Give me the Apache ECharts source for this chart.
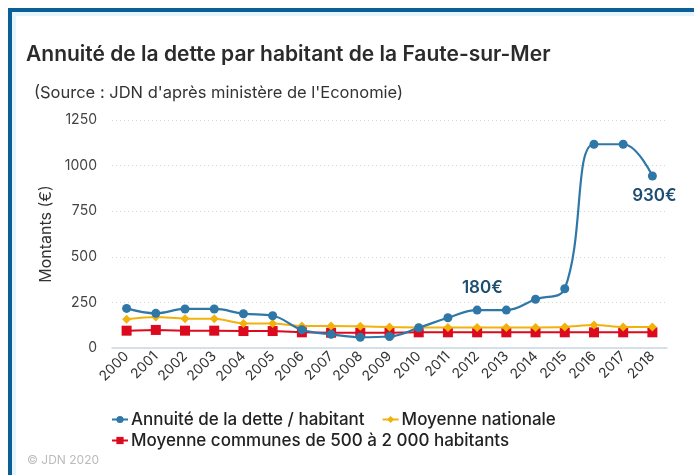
<!DOCTYPE html>
<html>
<head>
<meta charset="utf-8">
<script src="https://cdn.jsdelivr.net/npm/echarts@6/dist/echarts.min.js"></script>
<style>
  html, body { margin: 0; padding: 0; background: #fff; }
  #frame {
    position: absolute; left: 8px; top: 8px; width: 690px; height: 463px;
    border-top: 4px solid #0b5f95; border-left: 4px solid #0b5f95;
    box-shadow: inset 4px 4px 0 #e6f4fb;
    border-bottom: 4px solid #e6f4fb;
  }
  #main { position: absolute; left: 0; top: 0; width: 694px; height: 475px; }
</style>
</head>
<body>
<div id="frame"></div>
<div id="main"></div>
<script>
// années
var years = ['2000', '2001', '2002', '2003', '2004', '2005', '2006', '2007', '2008', '2009',
  '2010', '2011', '2012', '2013', '2014', '2015', '2016', '2017', '2018'];
// Annuité de la dette / habitant
var annuite = [217, 190, 214, 214, 188, 177, 100, 75, 59, 63, 111, 166, 208, 208, 267, 325, 1117, 1117, 943];
// Moyenne nationale
var moyNationale = [157, 170, 161, 161, 135, 135, 121, 121, 119, 115, 113, 113, 113, 113, 113, 115, 126, 115, 115];
// Moyenne communes de 500 à 2 000 habitants
var moyCommunes = [95, 99, 95, 95, 93, 93, 86, 84, 84, 84, 86, 86, 86, 86, 86, 86, 86, 86, 86];
var yTicks = [0, 250, 500, 750, 1000, 1250];
var annotations = { 13: '180€', 18: '930€' };
var names = ['Annuité de la dette / habitant', 'Moyenne nationale', 'Moyenne communes de 500 à 2 000 habitants'];

var font = 'Inter, "Noto Sans", sans-serif';

function withLabels(values) {
  return values.map(function (v, i) {
    if (!annotations[i]) return v;
    var below = i === 18;
    return {
      value: v,
      label: {
        show: true,
        formatter: annotations[i],
        position: below ? 'bottom' : 'top',
        offset: below ? [2, 2] : [-24, -4],
        color: '#1d4e72',
        fontFamily: font,
        fontSize: 17,
        fontWeight: 600,
      },
    };
  });
}

var legendBase = {
  left: 106,
  itemWidth: 16, itemHeight: 9, itemGap: 17,
  textStyle: { fontFamily: font, fontSize: 17, fontWeight: 500, color: '#222', padding: [0, 0, 0, -2] },
};

var myChart = echarts.init(document.getElementById('main'));
var option = {
  backgroundColor: 'transparent',
  textStyle: { fontFamily: font },
  title: [
    {
      text: 'Annuité de la dette par habitant de la Faute-sur-Mer',
      left: 21, top: 39,
      textStyle: { fontFamily: font, fontSize: 21, fontWeight: 600, color: '#2b2b2b' },
    },
    {
      text: "(Source : JDN d'après ministère de l'Economie)",
      left: 29, top: 80,
      textStyle: { fontFamily: font, fontSize: 16.5, fontWeight: 'normal', color: '#333' },
    },
    {
      text: '© JDN 2020',
      left: 22, top: 449,
      textStyle: { fontFamily: font, fontSize: 12, fontWeight: 'normal', color: '#bbb' },
    },
  ],
  legend: [
    Object.assign({}, legendBase, { top: 406, data: [names[0], names[1]] }),
    Object.assign({}, legendBase, { top: 427, data: [names[2]] }),
  ],
  grid: { left: 112, right: 27, top: 120, bottom: 127 },
  xAxis: {
    type: 'category',
    data: years,
    boundaryGap: true,
    axisLine: { lineStyle: { color: '#c9d7e6', width: 1.5 } },
    axisTick: { length: 7, lineStyle: { color: '#c9d7e6', width: 1.5 } },
    axisLabel: { rotate: 45, fontSize: 14, color: '#333', margin: 6, interval: 0 },
  },
  yAxis: {
    type: 'value',
    min: yTicks[0], max: yTicks[yTicks.length - 1], interval: 250,
    name: 'Montants (€)',
    nameLocation: 'middle',
    nameGap: 46,
    nameTextStyle: { fontSize: 16, color: '#333' },
    axisLine: { show: false },
    axisTick: { show: false },
    axisLabel: { fontSize: 14, color: '#444', margin: 15, formatter: function (v) { return String(v); } },
    splitLine: { lineStyle: { color: '#d5d5d5', type: [1, 3], width: 1 } },
  },
  series: [
    {
      name: names[0],
      type: 'line',
      data: withLabels(annuite),
      smooth: 0.4,
      symbol: 'circle',
      symbolSize: 9,
      color: '#2f77a6',
      lineStyle: { width: 2.2 },
      z: 4,
    },
    {
      name: names[1],
      type: 'line',
      data: moyNationale,
      smooth: 0.3,
      symbol: 'diamond',
      symbolSize: 9,
      color: '#f1b20a',
      lineStyle: { width: 2 },
      z: 3,
    },
    {
      name: names[2],
      type: 'line',
      data: moyCommunes,
      symbol: 'rect',
      symbolSize: 10,
      color: '#dc0a1e',
      lineStyle: { width: 2 },
      z: 2,
    },
  ],
};
myChart.setOption(option);
</script>
</body>
</html>
